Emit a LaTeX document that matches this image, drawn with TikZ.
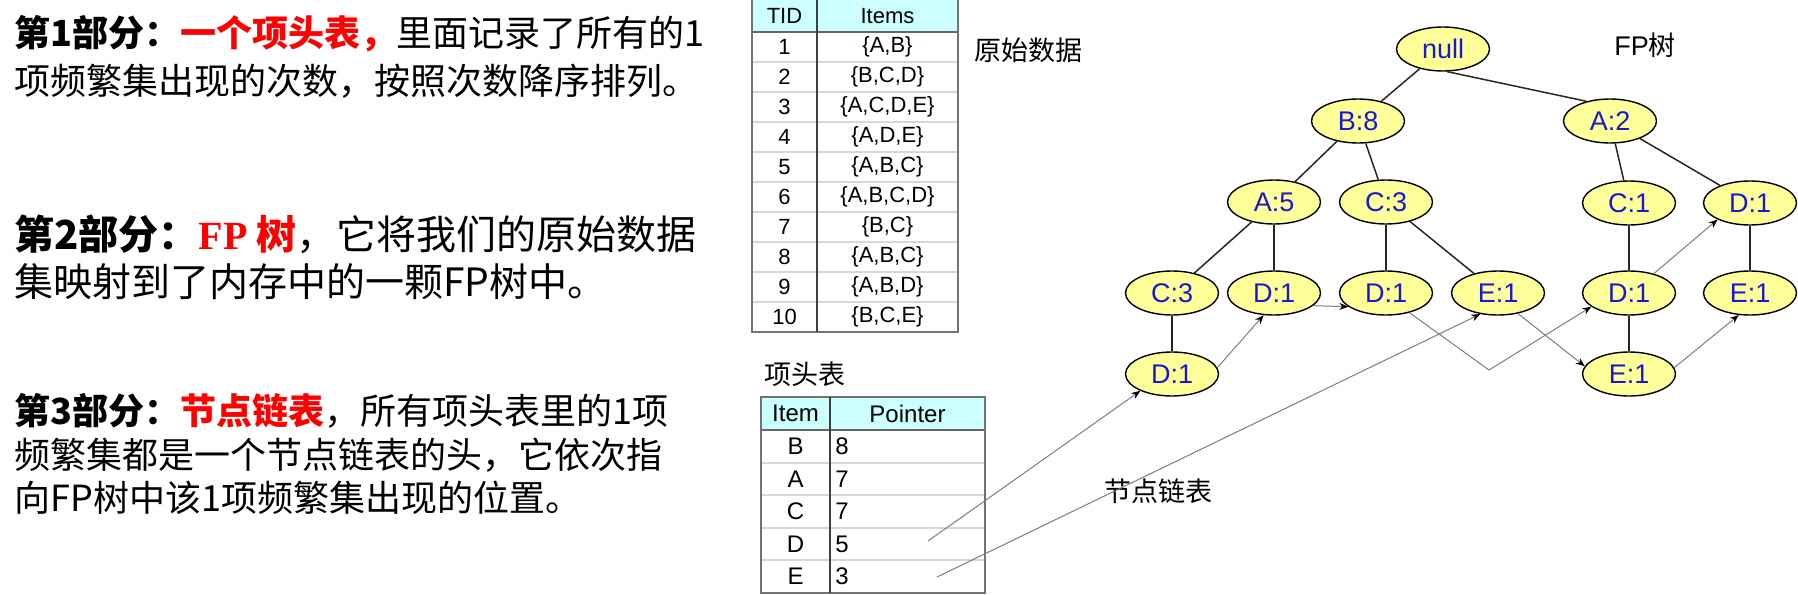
\documentclass[tikz,border=0pt]{standalone}
\usepackage{fontspec}
\setmainfont{Liberation Sans}
\newfontfamily\cjk{Noto Sans CJK SC}
\newfontfamily\serifb{Liberation Serif}
\usetikzlibrary{shapes.geometric,arrows.meta}
\definecolor{nodeyellow}{RGB}{255,255,153}
\definecolor{nodeblue}{RGB}{25,25,210}
\definecolor{hdrcyan}{RGB}{204,255,255}
\definecolor{linkgray}{RGB}{125,125,125}
\definecolor{sepgray}{RGB}{215,215,215}
\tikzset{
  tn/.style={ellipse, draw=black, line width=0.7pt, fill=nodeyellow, minimum width=46.5pt, minimum height=22pt, inner sep=0pt, text=nodeblue, font=\fontsize{13.5pt}{14pt}\selectfont},
  treeedge/.style={line width=0.75pt, draw=black!85},
  link/.style={draw=linkgray, line width=0.5pt, -{Stealth[length=4.5pt,width=3.5pt,color=black]}},
  para/.style={anchor=west, inner sep=0pt, font=\cjk\fontsize{18pt}{20pt}\selectfont},
  parabig/.style={anchor=west, inner sep=0pt, font=\cjk\fontsize{20pt}{22pt}\selectfont},
  paramid/.style={anchor=west, inner sep=0pt, font=\cjk\fontsize{19.5pt}{22pt}\selectfont},
  lbl/.style={inner sep=0pt, font=\fontsize{13.5pt}{14pt}\selectfont},
  tcell/.style={inner sep=0pt, font=\fontsize{11pt}{12pt}\selectfont},
  icell/.style={inner sep=0pt, font=\fontsize{12pt}{13pt}\selectfont},
  rowsep/.style={draw=sepgray, line width=1pt},
  hdrline/.style={draw=black!60, line width=1.2pt},
  frame/.style={draw=black!55, line width=1pt},
  divider/.style={draw=black!75, line width=1.1pt}
}
\begin{document}
\begin{tikzpicture}[x=0.5pt,y=-0.5pt]
\useasboundingbox (0,0) rectangle (1798,594);

% ---------- left text ----------
\node[para] (p1a) at (14,34) {\textbf{第1部分：}\textcolor{red}{\textbf{一个项头表，}}里面记录了所有的1};
\node[para] (p1b) at (14,81) {项频繁集出现的次数，按照次数降序排列。};
\node[parabig] (p2a) at (14,234) {\textbf{第2部分：}\textcolor{red}{\textbf{{\serifb FP} 树}}，它将我们的原始数据};
\node[paramid] (p2b) at (14,282) {集映射到了内存中的一颗FP树中。};
\node[para] (p3a) at (14,411) {\textbf{第3部分：}\textcolor{red}{\textbf{节点链表}}，所有项头表里的1项};
\node[para] (p3b) at (14,455) {频繁集都是一个节点链表的头，它依次指};
\node[para] (p3c) at (14,498) {向FP树中该1项频繁集出现的位置。};

% ---------- TID table ----------
\fill[hdrcyan] (752,-2) rectangle (958,32);
\foreach \i in {1,...,9} \draw[rowsep] (753,32+30*\i) -- (957,32+30*\i);
\draw[hdrline] (752,32) -- (958,32);
\draw[frame] (752,-2) rectangle (958,332);
\draw[divider] (817,-2) -- (817,332);
\node[tcell] (tidh) at (784.5,16) {TID};
\node[tcell] (itemsh) at (887.5,16) {Items};
\foreach \i/\s in {1/{A,B},2/{B,C,D},3/{A,C,D,E},4/{A,D,E},5/{A,B,C},6/{A,B,C,D},7/{B,C},8/{A,B,C},9/{A,B,D},10/{B,C,E}} {
  \node[tcell] (tid\i) at (784.5,{17+30*\i}) {\i};
  \node[tcell] (its\i) at (887.5,{17+30*\i}) {\{\s\}};
}
\node[lbl] (rawlbl) at (1028,50) {\cjk 原始数据};

% ---------- header table ----------
\node[lbl] (hdrlbl) at (805,374) {\cjk 项头表};
\fill[hdrcyan] (761,397) rectangle (985,430);
\foreach \i in {1,...,4} \draw[rowsep] (762,430+32.6*\i) -- (984,430+32.6*\i);
\draw[hdrline] (761,430) -- (985,430);
\draw[frame] (761,397) rectangle (985,593);
\draw[divider] (830,397) -- (830,593);
\node[icell] (itemh) at (795.5,413.5) {Item};
\node[icell] (ptrh) at (907.5,413.5) {Pointer};
\foreach \i/\a/\p in {1/B/8,2/A/7,3/C/7,4/D/5,5/E/3} {
  \node[icell] (hi\i) at (795.5,{430+32.6*(\i-0.5)}) {\a};
  \node[icell, anchor=west] (hp\i) at (835,{430+32.6*(\i-0.5)}) {\p};
}
\coordinate (tD) at (928,541);
\coordinate (tE) at (937,577);

% ---------- FP tree ----------
\node[lbl] (fplbl) at (1645,45) {FP{\cjk 树}};
\node[tn] (null) at (1443,49) {null};
\node[tn] (b8) at (1358,121) {B:8};
\node[tn] (a2) at (1610,121) {A:2};
\node[tn] (a5) at (1274,202) {A:5};
\node[tn] (c3) at (1386,202) {C:3};
\node[tn] (c1) at (1629,203) {C:1};
\node[tn] (d1t) at (1750,203) {D:1};
\node[tn] (n41) at (1172,293) {C:3};
\node[tn] (n42) at (1274,293) {D:1};
\node[tn] (n43) at (1386,293) {D:1};
\node[tn] (n44) at (1498,293) {E:1};
\node[tn] (n45) at (1629,293) {D:1};
\node[tn] (n46) at (1750,293) {E:1};
\node[tn] (n51) at (1172,374) {D:1};
\node[tn] (n52) at (1629,374) {E:1};

\draw[treeedge] (null) -- (b8);
\draw[treeedge] (null.-80) -- (a2.140);
\draw[treeedge] (b8) -- (a5);
\draw[treeedge] (b8) -- (c3);
\draw[treeedge] (a2) -- (c1);
\draw[treeedge] (a2) -- (d1t);
\draw[treeedge] (a5) -- (n41);
\draw[treeedge] (a5) -- (n42);
\draw[treeedge] (c3) -- (n43);
\draw[treeedge] (c3) -- (n44);
\draw[treeedge] (c1) -- (n45);
\draw[treeedge] (d1t) -- (n46);
\draw[treeedge] (n41) -- (n51);
\draw[treeedge] (n45) -- (n52);

% ---------- node links ----------
\node[lbl] (linklbl) at (1158,491) {\cjk 节点链表};
\coordinate (vpt) at (1489,370);
\draw[link] (tD) -- (n51.208);
\draw[link] (tE) -- (n44.230);
\draw[link] (n51.8) -- (n42.245);
\draw[link] (n42.-18) -- (n43.200);
\draw[link] (n43.-40) -- (vpt) -- (n45.200);
\draw[link] (n45.38) -- (d1t.207);
\draw[link] (n44.-46) -- (n52.170);
\draw[link] (n52.8) -- (n46.243);
\end{tikzpicture}
\end{document}
